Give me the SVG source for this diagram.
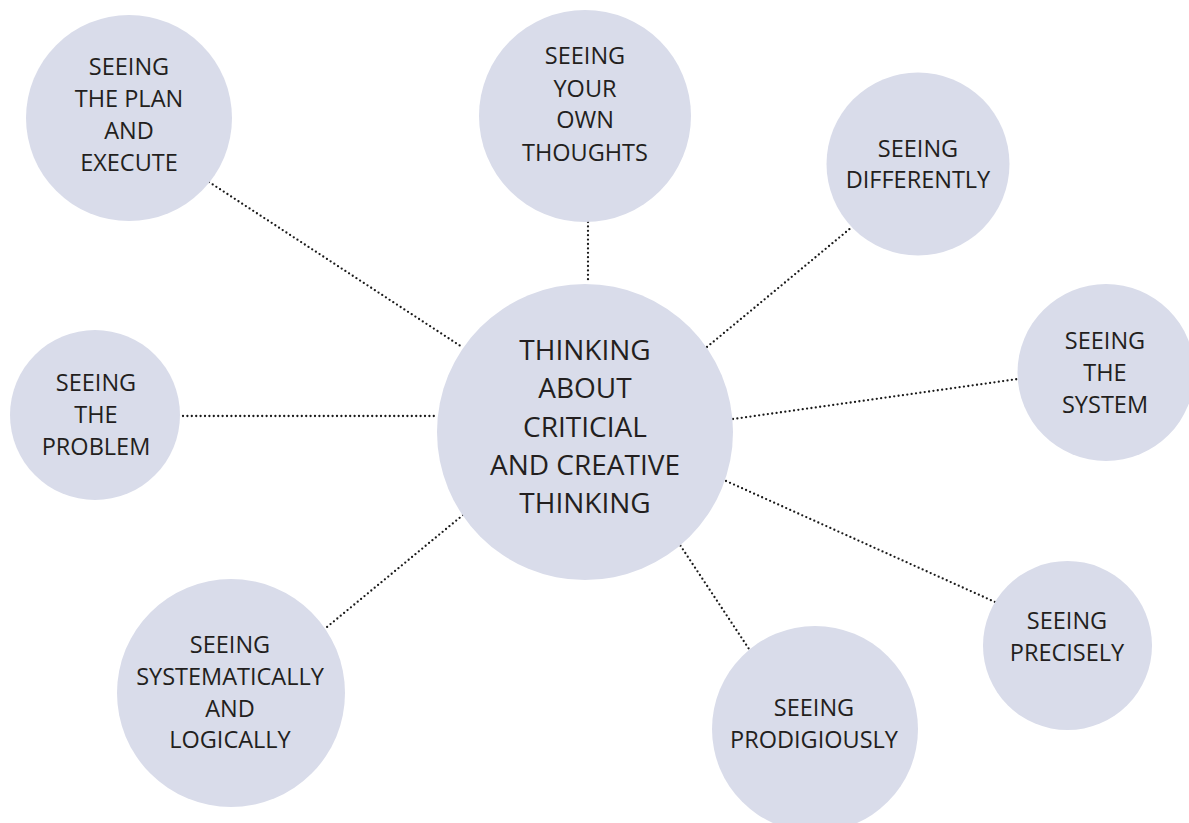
<svg xmlns="http://www.w3.org/2000/svg" width="1189" height="823" viewBox="0 0 1189 823">
<style>
.n{fill:#d9dcea}
.t{font-family:"Open Sans","Noto Sans","Liberation Sans",sans-serif;font-size:23.5px;fill:#231f20;text-anchor:middle}
.big{font-size:28px}
.c{stroke:#1a1a1a;stroke-width:2.3;stroke-dasharray:0 4.4;stroke-linecap:round;fill:none}
</style>
<rect width="1189" height="823" fill="#ffffff"/>
<g id="connectors">
<line class="c" x1="209" y1="182" x2="462" y2="347"/>
<line class="c" x1="588" y1="222" x2="588" y2="283"/>
<line class="c" x1="707" y1="347" x2="852" y2="227"/>
<line class="c" x1="733" y1="419" x2="1018" y2="379"/>
<line class="c" x1="183" y1="416" x2="437" y2="416"/>
<line class="c" x1="463" y1="515" x2="327" y2="627"/>
<line class="c" x1="678" y1="542" x2="749" y2="649"/>
<line class="c" x1="726" y1="481" x2="995" y2="602"/>
</g>
<g id="center">
<circle class="n" cx="585" cy="432" r="148"/>
<text class="t big"><tspan x="585" y="360">THINKING</tspan><tspan x="585" y="398">ABOUT</tspan><tspan x="585" y="437">CRITICIAL</tspan><tspan x="585" y="475">AND CREATIVE</tspan><tspan x="585" y="513">THINKING</tspan></text>
</g>
<g id="plan">
<circle class="n" cx="129" cy="118" r="103"/>
<text class="t"><tspan x="129" y="75">SEEING</tspan><tspan x="129" y="107">THE PLAN</tspan><tspan x="129" y="139">AND</tspan><tspan x="129" y="171">EXECUTE</tspan></text>
</g>
<g id="thoughts">
<circle class="n" cx="585" cy="116" r="106"/>
<text class="t"><tspan x="585" y="64">SEEING</tspan><tspan x="585" y="97">YOUR</tspan><tspan x="585" y="128">OWN</tspan><tspan x="585" y="161">THOUGHTS</tspan></text>
</g>
<g id="differently">
<circle class="n" cx="918" cy="164" r="91.5"/>
<text class="t"><tspan x="918" y="157">SEEING</tspan><tspan x="918" y="188">DIFFERENTLY</tspan></text>
</g>
<g id="system">
<circle class="n" cx="1106" cy="372.5" r="88.5"/>
<text class="t"><tspan x="1105" y="349">SEEING</tspan><tspan x="1105" y="381">THE</tspan><tspan x="1105" y="413">SYSTEM</tspan></text>
</g>
<g id="problem">
<circle class="n" cx="95" cy="415" r="85"/>
<text class="t"><tspan x="96" y="391">SEEING</tspan><tspan x="96" y="423">THE</tspan><tspan x="96" y="455">PROBLEM</tspan></text>
</g>
<g id="systematically">
<circle class="n" cx="231" cy="693" r="114"/>
<text class="t"><tspan x="230" y="653">SEEING</tspan><tspan x="230" y="685">SYSTEMATICALLY</tspan><tspan x="230" y="717">AND</tspan><tspan x="230" y="748">LOGICALLY</tspan></text>
</g>
<g id="prodigiously">
<circle class="n" cx="815" cy="729" r="103"/>
<text class="t"><tspan x="814" y="716">SEEING</tspan><tspan x="814" y="748">PRODIGIOUSLY</tspan></text>
</g>
<g id="precisely">
<circle class="n" cx="1067.5" cy="645.5" r="84.5"/>
<text class="t"><tspan x="1067" y="629">SEEING</tspan><tspan x="1067" y="661">PRECISELY</tspan></text>
</g>
</svg>
